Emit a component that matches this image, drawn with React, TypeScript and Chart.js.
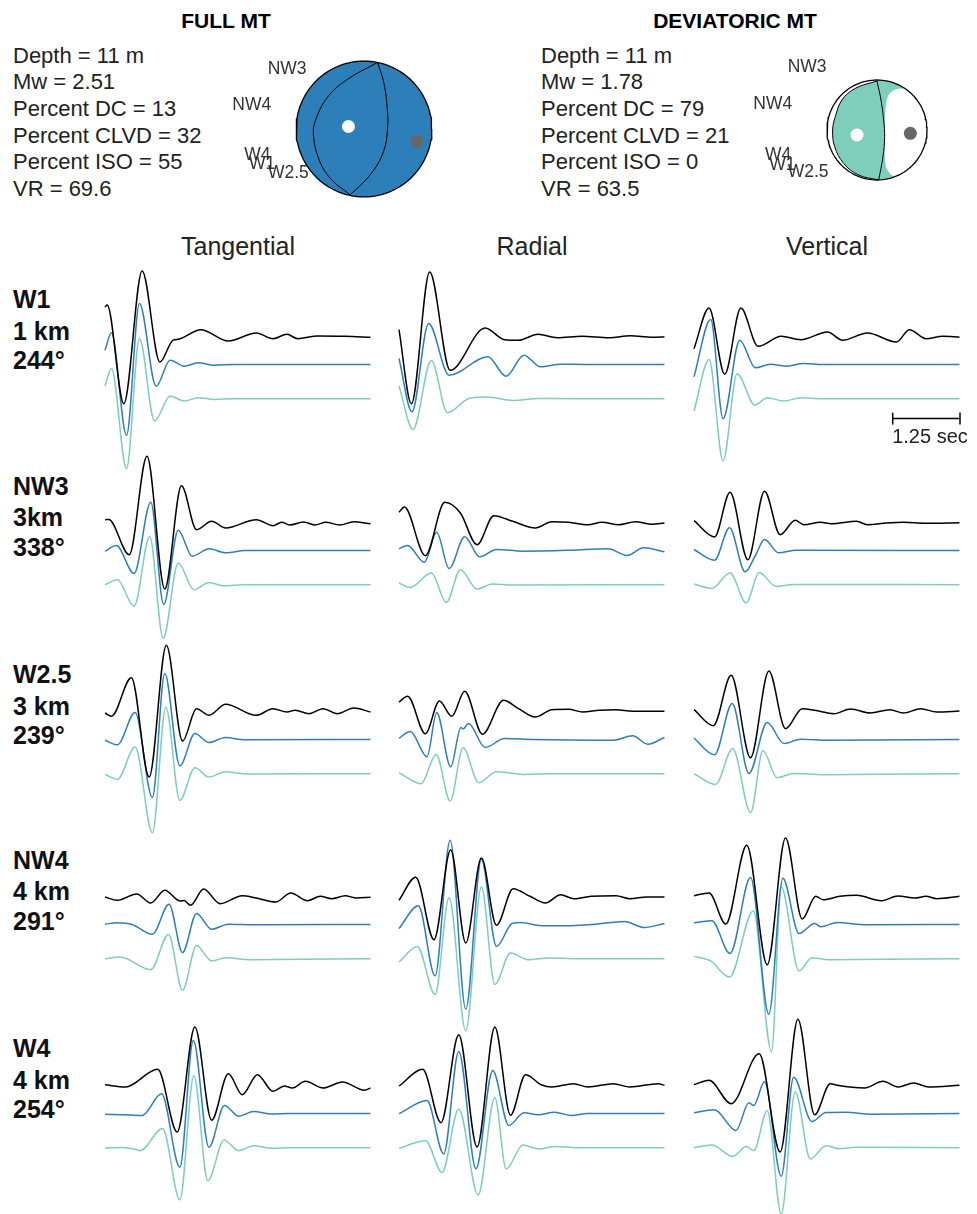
import React, { useEffect, useRef } from "react";
import { Chart, registerables } from "chart.js";

Chart.register(...registerables);

type Sample = [number, number]; // [time (s), amplitude]

// ---------------------------------------------------------------------------
// Waveforms. Black = observed, blue = full-MT synthetic, teal = deviatoric-MT
// synthetic. Time in seconds from the window start, amplitude in plot units.
// ---------------------------------------------------------------------------

// W1 (1 km, 244°)
const W1_T_obs: Sample[] = [[0, 30], [0.04, 32], [0.35, -66.7], [0.69, 66], [1.02, -25], [1.26, -3.3], [1.36, -2.3], [1.78, 7.3], [2.29, -4], [2.81, 4], [3.12, -1.7], [3.38, 2.7], [3.58, -1.7], [3.95, 1], [4.46, 0.7], [4.93, -0.3]];
const W1_T_full: Sample[] = [[0, 14.3], [0.12, 31.7], [0.4, -70.7], [0.64, 61], [0.95, -21.7], [1.21, 4.3], [1.47, -1.7], [1.73, 1.7], [2.03, -0.7], [2.4, 0], [4.93, 0]];
const W1_T_dev: Sample[] = [[0, 12.7], [0.12, 30.3], [0.4, -70], [0.64, 60.3], [0.92, -22.3], [1.21, 2.7], [1.47, -2.3], [1.73, 1], [2.03, -0.7], [2.4, 0], [4.93, 0]];
const W1_R_obs: Sample[] = [[0, 7.3], [0.23, -66.7], [0.57, 65], [0.95, -33.3], [1.6, 9], [1.96, -2.7], [2.22, -3.3], [2.58, 2.7], [2.94, -0.7], [3.4, 0.7], [3.9, -0.7], [4.3, 1.3], [4.7, -0.3], [4.93, 0]];
const W1_R_full: Sample[] = [[0, 6], [0.24, -47.3], [0.55, 41], [0.93, -10.7], [1.65, 7.7], [1.99, -11.7], [2.32, 9.3], [2.63, -2.3], [3.0, 0.3], [3.5, 0], [4.93, 0]];
const W1_R_dev: Sample[] = [[0, 12.7], [0.26, -30.7], [0.6, 38.3], [0.9, -14], [1.3, 0.3], [1.65, 1.7], [2.11, -1.7], [2.6, 0.3], [3.2, 0], [4.93, 0]];
const W1_Z_obs: Sample[] = [[0, -11.7], [0.28, 29], [0.57, -37.3], [0.87, 29], [1.19, -9.3], [1.62, 0.7], [1.98, -2.7], [2.48, 5], [2.76, -3.3], [3.22, 4], [3.76, -5], [4.0, 7.3], [4.31, -1.7], [4.62, 0.7], [4.93, 0]];
const W1_Z_full: Sample[] = [[0, -12.3], [0.31, 45], [0.54, -54], [0.85, 24.3], [1.14, -3.3], [1.42, 0.3], [1.73, -1.7], [2.03, 1], [2.4, 0], [4.93, 0]];
const W1_Z_dev: Sample[] = [[0, -12.3], [0.28, 39.3], [0.54, -62.3], [0.8, 25], [1.13, -6.3], [1.36, 1], [1.67, -2.3], [1.98, 1], [2.4, 0], [4.93, 0]];

// NW3 (3 km, 338°)
const NW3_T_obs: Sample[] = [[0, 3.3], [0.07, 3.5], [0.45, -31.7], [0.78, 66.7], [1.11, -66], [1.42, 37.3], [1.7, -6.7], [1.98, 1.7], [2.24, -5], [2.81, 3.3], [3.12, -2.7], [3.28, 0.7], [3.43, -2], [3.69, 1], [3.9, -2], [4.1, 0.7], [4.36, -2], [4.62, 1.3], [4.93, -0.7]];
const NW3_T_full: Sample[] = [[0, -0.7], [0.21, 5], [0.54, -23], [0.85, 48.3], [1.09, -54], [1.36, 20.3], [1.62, -5.7], [1.93, 1.7], [2.24, -2.3], [2.6, 0], [4.93, 0]];
const NW3_T_dev: Sample[] = [[0, 0], [0.23, 5], [0.54, -21.7], [0.83, 48.3], [1.08, -53.7], [1.36, 21.7], [1.65, -5], [1.93, 2.3], [2.19, -1], [2.6, 0], [4.93, 0]];
const NW3_R_obs: Sample[] = [[0, 10.7], [0.1, 16], [0.49, -32.7], [0.85, 20.7], [1.14, 10], [1.45, -21.7], [1.76, 7.3], [2.11, 1.7], [2.53, -5], [2.84, 1.3], [3.15, 0.7], [3.51, -1.7], [3.77, 0.7], [4.08, -1.7], [4.39, 1.3], [4.7, -1.3], [4.93, 0]];
const NW3_R_full: Sample[] = [[0, 1.7], [0.16, 5], [0.47, -11.7], [0.7, 18.3], [0.93, -18], [1.22, 13.7], [1.5, -6.3], [1.81, 1], [2.3, -0.7], [3.2, 0.3], [3.88, 1.7], [4.24, -5], [4.54, 2.7], [4.93, -1.3]];
const NW3_R_dev: Sample[] = [[0, 1.7], [0.21, -2.7], [0.6, 11.7], [0.88, -17.7], [1.14, 15], [1.45, -4.3], [1.73, 0.7], [2.1, -0.3], [4.93, 0]];
const NW3_Z_obs: Sample[] = [[0, 2.3], [0.38, -14], [0.67, 30.7], [1.0, -36.7], [1.31, 31.7], [1.6, -11.7], [1.88, 2.7], [2.04, -1.7], [2.35, 0.7], [2.55, -0.7], [3.02, 1.7], [3.22, -1.7], [3.58, 0], [3.9, 0.7], [4.3, -0.3], [4.93, 0.3]];
const NW3_Z_full: Sample[] = [[0, 1], [0.38, -9.7], [0.66, 22.7], [0.95, -21.3], [1.14, -5], [1.31, 11], [1.57, -2.3], [1.9, 0.3], [4.93, 0]];
const NW3_Z_dev: Sample[] = [[0, 0.7], [0.33, -3.7], [0.67, 11.7], [0.97, -18.3], [1.21, 12.3], [1.52, -1.7], [1.85, 0.3], [4.93, 0]];

// W2.5 (3 km, 239°)
const W25_T_obs: Sample[] = [[0, -1], [0.12, -4.3], [0.49, 34.3], [0.82, -65], [1.14, 66.7], [1.44, -29], [1.7, 3.3], [1.93, -3.3], [2.24, 7.7], [2.81, -3.3], [3.12, 3.3], [3.38, 0], [3.53, 1.7], [3.79, -1.7], [4.05, 3.3], [4.31, -1.7], [4.62, 4], [4.93, 0]];
const W25_T_full: Sample[] = [[0, -0.7], [0.23, -5.3], [0.56, 27], [0.88, -58], [1.11, 66], [1.39, -26.3], [1.67, 6], [1.93, -3], [2.24, 2], [2.6, -0.3], [4.93, 0]];
const W25_T_dev: Sample[] = [[0, -0.7], [0.23, -5.7], [0.56, 26.7], [0.88, -59], [1.13, 66.7], [1.39, -26.7], [1.67, 6], [1.93, -3.3], [2.24, 2], [2.6, -0.3], [4.93, 0]];
const W25_R_obs: Sample[] = [[0, 10], [0.16, 15.7], [0.49, -21.7], [0.75, 11], [0.98, -4.3], [1.22, 20.7], [1.55, -22.3], [1.94, 11.7], [2.22, 3.3], [2.53, -5], [2.84, 2.3], [3.15, 2.7], [3.41, 0], [3.72, 1.7], [4.03, 2.3], [4.34, 0.7], [4.93, 0.7]];
const W25_R_full: Sample[] = [[0, 1.3], [0.21, 8], [0.52, -17.3], [0.7, 27], [0.96, -27.3], [1.15, 12], [1.19, 10.5], [1.29, 16], [1.6, -8], [1.96, 1], [2.5, 0], [3.98, -0.7], [4.34, 3.7], [4.62, -4.7], [4.93, 2]];
const W25_R_dev: Sample[] = [[0, 1], [0.41, -10], [0.69, 19.3], [0.95, -27.3], [1.19, 26], [1.48, -9], [1.81, 2], [2.3, -0.7], [2.8, 0], [4.93, 0]];
const W25_Z_obs: Sample[] = [[0, 2.3], [0.36, -13.7], [0.69, 36.7], [1.05, -45.7], [1.39, 41], [1.7, -16.7], [2.01, 3.3], [2.24, 1.7], [2.6, -1.7], [2.91, 3], [3.27, -1], [3.64, 2.3], [3.89, -1], [4.21, 3.3], [4.51, 0], [4.93, 1]];
const W25_Z_full: Sample[] = [[0, 1.3], [0.38, -15.3], [0.71, 36], [1.02, -34], [1.36, 17], [1.67, -4], [1.98, 0.3], [2.5, -0.7], [4.93, 0]];
const W25_Z_dev: Sample[] = [[0, 0], [0.4, -10.7], [0.72, 25.3], [1.05, -39], [1.28, 23.3], [1.54, -4], [1.85, 0.3], [2.4, -1], [4.93, 0]];

// NW4 (4 km, 291°)
const NW4_T_obs: Sample[] = [[0, 0], [0.23, -3.3], [0.59, 3], [0.85, -6], [1.11, 6.7], [1.4, -4], [1.47, -3.6], [1.59, -8.3], [1.83, 8], [2.14, -6.7], [2.55, 1.3], [2.81, -1], [3.17, -5], [3.45, 4], [3.76, -3.7], [4.0, 0.7], [4.21, -1.7], [4.46, 1.3], [4.67, -1], [4.93, -0.3]];
const NW4_T_full: Sample[] = [[0, 0.3], [0.23, 1.7], [0.5, 0], [0.88, -9.7], [1.19, 20.3], [1.44, -28], [1.7, 11], [1.98, -4.7], [2.29, 0.3], [2.8, -0.3], [4.93, 0]];
const NW4_T_dev: Sample[] = [[0, 0], [0.28, 1.7], [0.85, -11], [1.18, 24.3], [1.44, -31.7], [1.7, 13.3], [1.98, -2.3], [2.24, 1], [2.7, -1], [4.93, 0]];
const NW4_R_obs: Sample[] = [[0, -3.3], [0.31, 19.7], [0.65, -42.7], [0.96, 47.3], [1.24, -46], [1.53, 39], [1.81, -28.3], [2.12, 8.3], [2.43, 0.7], [2.72, -6], [3.0, 2.3], [3.25, -1.7], [3.57, 0.7], [4.03, 1.3], [4.29, -1.7], [4.6, 0], [4.93, 0]];
const NW4_R_full: Sample[] = [[0, -4], [0.36, 18.7], [0.67, -51.3], [0.95, 84.3], [1.24, -84.7], [1.53, 65.3], [1.81, -22], [2.1, 1], [2.27, 2], [2.6, -1], [3.05, -1.3], [3.6, 0], [4.19, 3], [4.55, -3], [4.93, 1]];
const NW4_R_dev: Sample[] = [[0, -3.3], [0.34, 12.3], [0.67, -35.7], [0.93, 61], [1.24, -72], [1.53, 71.7], [1.78, -25.7], [2.07, 5.7], [2.4, -1], [2.8, 0.7], [3.3, 0], [4.93, 0]];
const NW4_Z_obs: Sample[] = [[0, 1.3], [0.28, 4], [0.59, -27], [0.98, 51.7], [1.36, -67.7], [1.7, 59], [2.01, -22], [2.26, 0.7], [2.4, -2.7], [2.71, 0.7], [3.02, 1.7], [3.48, -3.7], [3.79, 1], [4.1, -1], [4.31, 0.7], [4.51, -1.7], [4.93, 0.7]];
const NW4_Z_full: Sample[] = [[0, 1.7], [0.33, 3.7], [0.67, -29], [1.05, 47], [1.39, -89.7], [1.65, 46.3], [1.95, -9], [2.24, 1], [2.35, -2.3], [2.66, 2], [3.2, -0.3], [4.93, 0]];
const NW4_Z_dev: Sample[] = [[0, 2.3], [0.3, -2], [0.66, -18.3], [1.1, 47.7], [1.44, -93], [1.62, 71.7], [1.95, -12.3], [2.19, 1], [2.5, -1], [4.93, 0]];

// W4 (4 km, 254°)
const W4_T_obs: Sample[] = [[0, 1.3], [0.38, -1], [0.98, 16.7], [1.34, -46], [1.67, 59], [1.98, -34.3], [2.29, 12.3], [2.55, -8.7], [2.83, 11.3], [3.12, -5.3], [3.33, 0], [3.48, -2], [3.72, 4.7], [4.05, -2], [4.41, 4], [4.82, -4.3], [4.93, -2]];
const W4_T_full: Sample[] = [[0, -0.7], [0.33, -1.3], [0.69, -2], [1.05, 19.7], [1.39, -53.7], [1.64, 73], [1.93, -33.7], [2.22, 8], [2.48, -2.7], [2.76, 2], [3.1, -0.5], [3.4, 0], [4.93, 0]];
const W4_T_dev: Sample[] = [[0, -0.3], [0.3, 0.3], [0.54, -1.3], [0.65, -3], [1.07, 19.3], [1.39, -52], [1.65, 72], [1.91, -33], [2.21, 7.7], [2.48, -3], [2.76, 2], [3.1, -0.5], [3.4, 0], [4.93, 0]];
const W4_R_obs: Sample[] = [[0, 0], [0.44, 16.7], [0.78, -36.7], [1.11, 51.3], [1.45, -61], [1.78, 59], [2.07, -29.3], [2.35, 11.3], [2.64, 1.3], [2.84, -1], [3.24, 2.3], [3.51, -1], [3.98, 2.3], [4.29, -1], [4.81, 2.3], [4.93, 0.7]];
const W4_R_full: Sample[] = [[0, -0.3], [0.52, 13], [0.83, -40.3], [1.11, 62], [1.43, -55.3], [1.74, 43], [2.04, -12], [2.32, 0.7], [2.58, -1.3], [2.89, 1.3], [3.2, -2], [3.5, 0], [4.93, 0]];
const W4_R_dev: Sample[] = [[0, -0.7], [0.49, 7], [0.8, -24.7], [1.11, 38.7], [1.47, -47.3], [1.78, 50.3], [1.99, -21.3], [2.3, 2.7], [2.6, -1.3], [2.9, 1.3], [3.3, 0], [4.93, 0]];
const W4_Z_obs: Sample[] = [[0, 1.3], [0.28, 5.7], [0.69, -17.7], [1.21, 32.3], [1.6, -66], [1.93, 66.7], [2.24, -28.7], [2.53, 2.3], [2.66, 0.7], [3.17, -2], [3.51, 4.7], [3.79, -1], [4.08, 3], [4.36, -1], [4.93, 0.7]];
const W4_Z_full: Sample[] = [[0, 0.7], [0.38, 3.7], [0.78, -17], [1.02, 10.7], [1.11, 8], [1.31, 32], [1.62, -62.7], [1.85, 36.3], [2.19, -8], [2.45, 1], [2.81, 1.3], [3.3, -0.7], [4.93, 0]];
const W4_Z_dev: Sample[] = [[0, 0], [0.33, 2.7], [0.72, -8.7], [0.97, 1.3], [1.11, -3], [1.36, 37], [1.62, -66.3], [1.88, 56], [2.16, -11.3], [2.45, 2], [2.7, -1], [3.0, 0.5], [4.93, 0]];

// Station rows and component columns
const STATIONS = ["W1", "NW3", "W2.5", "NW4", "W4"];
const DISTANCES = ["1 km", "3km", "3 km", "4 km", "4 km"];
const AZIMUTHS = ["244°", "338°", "239°", "291°", "254°"];
const COMPONENTS = ["Tangential", "Radial", "Vertical"];

const OBS_ROWS = [
  [W1_T_obs, W1_R_obs, W1_Z_obs],
  [NW3_T_obs, NW3_R_obs, NW3_Z_obs],
  [W25_T_obs, W25_R_obs, W25_Z_obs],
  [NW4_T_obs, NW4_R_obs, NW4_Z_obs],
  [W4_T_obs, W4_R_obs, W4_Z_obs],
];
const FULL_ROWS = [
  [W1_T_full, W1_R_full, W1_Z_full],
  [NW3_T_full, NW3_R_full, NW3_Z_full],
  [W25_T_full, W25_R_full, W25_Z_full],
  [NW4_T_full, NW4_R_full, NW4_Z_full],
  [W4_T_full, W4_R_full, W4_Z_full],
];
const DEV_ROWS = [
  [W1_T_dev, W1_R_dev, W1_Z_dev],
  [NW3_T_dev, NW3_R_dev, NW3_Z_dev],
  [W25_T_dev, W25_R_dev, W25_Z_dev],
  [NW4_T_dev, NW4_R_dev, NW4_Z_dev],
  [W4_T_dev, W4_R_dev, W4_Z_dev],
];

const SCALE_BAR_SEC = 1.25;

// Moment tensor summaries
const FULL_INFO = ["Depth = 11 m", "Mw = 2.51", "Percent DC = 13", "Percent CLVD = 32", "Percent ISO = 55", "VR = 69.6"];
const DEV_INFO = ["Depth = 11 m", "Mw = 1.78", "Percent DC = 79", "Percent CLVD = 21", "Percent ISO = 0", "VR = 63.5"];

// Focal sphere traces, in unit-sphere projection coordinates
const FULL_NODAL_A: Sample[] = [[0.2, 0.98], [-0.253, 0.726], [-0.547, 0.456], [-0.72, 0.111], [-0.745, -0.086], [-0.671, -0.429], [-0.499, -0.724], [-0.204, -0.97]];
const FULL_NODAL_B: Sample[] = [[0.2, 0.98], [0.288, 0.7], [0.338, 0.357], [0.347, 0.013], [0.288, -0.332], [0.091, -0.676], [-0.204, -0.97]];
const FULL_T_AXIS: Sample = [-0.229, 0.037];
const FULL_P_AXIS: Sample = [0.78, -0.184];

const DEV_NODAL_A: Sample[] = [[0, 0.98], [-0.433, 0.833], [-0.7, 0.6], [-0.833, 0.267], [-0.887, 0], [-0.847, -0.333], [-0.667, -0.667], [-0.367, -0.9], [0.033, -1.0]];
const DEV_NODAL_B: Sample[] = [[0, 0.98], [0.08, 0.6], [0.133, 0.2], [0.153, -0.133], [0.12, -0.533], [0.033, -1.0]];
const DEV_DILATATION_EDGE: Sample[] = [[0.367, -0.93], [0.287, -0.9], [0.18, -0.733], [0.15, -0.4], [0.15, -0.133], [0.16, 0.2], [0.18, 0.5], [0.24, 0.72], [0.35, 0.8], [0.45, 0.83], [0.574, 0.819]];
const DEV_T_AXIS: Sample = [-0.4, -0.1];
const DEV_P_AXIS: Sample = [0.667, -0.067];

const STATION_MARKS = ["NW3", "NW4", "W4", "W1", "W2.5"];

// ---------------------------------------------------------------------------
// Layout
// ---------------------------------------------------------------------------
const FONT = "'Liberation Sans', Arial, Helvetica, sans-serif";
const BLUE = "#2c7fb8";
const TEAL = "#7fcdbb";

const WINDOW_SEC = 4.94;
const PANEL_W = 266;
const PAD = 4;
const Y_MAX = 80;
const Y_MIN = -165;
const FULL_OFFSET = -27.5;
const DEV_OFFSET = -61.7;
const COL_X = [105, 399, 694];
const ROW_BASE = [336.7, 523.3, 711.7, 897.3, 1085.7];
const SCALE_BAR_Y = -81.6;

const toXY = (arr: Sample[], off = 0) => arr.map(([x, y]) => ({ x, y: y + off }));

const arc = (a0: number, a1: number, step = 4) => {
  const n = Math.max(1, Math.ceil(Math.abs(a1 - a0) / step));
  const pts: { x: number; y: number }[] = [];
  for (let i = 0; i <= n; i++) {
    const a = ((a0 + ((a1 - a0) * i) / n) * Math.PI) / 180;
    pts.push({ x: Math.cos(a), y: Math.sin(a) });
  }
  return pts;
};

const hiddenScales = (xMin: number, xMax: number, yMin: number, yMax: number) => ({
  x: { type: "linear" as const, min: xMin, max: xMax, display: false },
  y: { type: "linear" as const, min: yMin, max: yMax, display: false },
});

function TracePanel(props: { obs: Sample[]; full: Sample[]; dev: Sample[]; left: number; top: number; scaleBar: boolean }) {
  const ref = useRef<HTMLCanvasElement>(null);
  const { obs, full, dev, left, top, scaleBar } = props;
  useEffect(() => {
    if (!ref.current) return;
    const line = (data: any[], color: string, order: number) => ({
      data,
      showLine: true,
      borderColor: color,
      borderWidth: 1.5,
      pointRadius: 0,
      cubicInterpolationMode: "monotone" as const,
      clip: false as const,
      order,
    });
    const datasets: any[] = [
      line(toXY(obs), "#000000", 1),
      line(toXY(full, FULL_OFFSET), BLUE, 2),
      line(toXY(dev, DEV_OFFSET), TEAL, 3),
    ];
    if (scaleBar) {
      datasets.push({
        data: [
          { x: WINDOW_SEC - SCALE_BAR_SEC, y: SCALE_BAR_Y },
          { x: WINDOW_SEC, y: SCALE_BAR_Y },
        ],
        showLine: true,
        borderColor: "#000000",
        borderWidth: 1.5,
        pointStyle: "line",
        rotation: 90,
        pointRadius: 6,
        pointBorderWidth: 1.5,
        pointBorderColor: "#000000",
        clip: false,
        order: 0,
      });
    }
    const chart = new Chart(ref.current, {
      type: "scatter",
      data: { datasets },
      options: {
        animation: false,
        responsive: false,
        devicePixelRatio: 1,
        events: [],
        layout: { autoPadding: false, padding: { left: PAD, right: PAD, top: 0, bottom: 0 } },
        plugins: { legend: { display: false }, tooltip: { enabled: false } },
        scales: hiddenScales(0, WINDOW_SEC, Y_MIN, Y_MAX),
      },
    });
    return () => chart.destroy();
  }, [obs, full, dev, scaleBar]);
  const w = PANEL_W + 2 * PAD;
  const h = Y_MAX - Y_MIN;
  return (
    <canvas
      ref={ref}
      width={w}
      height={h}
      style={{ position: "absolute", left: left - PAD, top, width: w, height: h }}
    />
  );
}

function Beachball(props: { kind: "full" | "dev"; cx: number; cy: number; r: number }) {
  const ref = useRef<HTMLCanvasElement>(null);
  const { kind, cx, cy, r } = props;
  const ext = 1.12;
  const size = Math.round(2 * ext * r);
  useEffect(() => {
    if (!ref.current) return;
    const curve = (pts: any[], order: number) => ({
      data: pts,
      showLine: true,
      borderColor: "#000000",
      borderWidth: 1,
      pointRadius: 0,
      tension: 0.4,
      clip: false,
      order,
    });
    const dot = (p: Sample, color: string) => ({
      data: [{ x: p[0], y: p[1] }],
      showLine: false,
      pointRadius: 6.5,
      pointBackgroundColor: color,
      pointBorderWidth: 0,
      pointBorderColor: color,
      order: 0,
    });
    let datasets: any[];
    if (kind === "full") {
      datasets = [
        {
          data: arc(0, 360, 3),
          showLine: true,
          fill: "shape",
          backgroundColor: BLUE,
          borderColor: "#000000",
          borderWidth: 1.3,
          pointRadius: 0,
          tension: 0,
          order: 5,
        },
        curve(toXY(FULL_NODAL_A), 3),
        curve(toXY(FULL_NODAL_B), 2),
        dot(FULL_T_AXIS, "#ffffff"),
        dot(FULL_P_AXIS, "#666666"),
      ];
    } else {
      const tealRegion = [...toXY(DEV_NODAL_A), ...arc(-88, 90, 3).slice(1)];
      const whiteRegion = [...arc(55, -70, 3), ...toXY(DEV_DILATATION_EDGE)];
      datasets = [
        { data: tealRegion, showLine: true, fill: "shape", backgroundColor: TEAL, borderWidth: 0, borderColor: "rgba(0,0,0,0)", pointRadius: 0, tension: 0.3, order: 6 },
        { data: whiteRegion, showLine: true, fill: "shape", backgroundColor: "#ffffff", borderWidth: 0, borderColor: "rgba(0,0,0,0)", pointRadius: 0, tension: 0.3, order: 5 },
        curve(toXY(DEV_NODAL_A), 4),
        curve(toXY(DEV_NODAL_B), 3),
        {
          data: arc(0, 360, 3),
          showLine: true,
          borderColor: "#000000",
          borderWidth: 1.3,
          pointRadius: 0,
          tension: 0,
          order: 2,
        },
        dot(DEV_T_AXIS, "#ffffff"),
        dot(DEV_P_AXIS, "#666666"),
      ];
    }
    const chart = new Chart(ref.current, {
      type: "scatter",
      data: { datasets },
      options: {
        animation: false,
        responsive: false,
        devicePixelRatio: 1,
        events: [],
        layout: { autoPadding: false, padding: 0 },
        plugins: { legend: { display: false }, tooltip: { enabled: false } },
        scales: hiddenScales(-ext, ext, -ext, ext),
      },
    });
    return () => chart.destroy();
  }, [kind]);
  return (
    <canvas
      ref={ref}
      width={size}
      height={size}
      style={{ position: "absolute", left: cx - size / 2, top: cy - size / 2, width: size, height: size }}
    />
  );
}

const textAt = (
  key: string,
  text: string,
  x: number,
  cy: number,
  size: number,
  opts: { bold?: boolean; align?: "left" | "center"; color?: string } = {}
) => {
  const lh = Math.round(size * 1.3);
  const style: React.CSSProperties = {
    position: "absolute",
    top: cy - lh / 2,
    lineHeight: `${lh}px`,
    height: lh,
    fontFamily: FONT,
    fontSize: size,
    fontWeight: opts.bold ? 700 : 400,
    color: opts.color || "#222222",
    whiteSpace: "nowrap",
  };
  if (opts.align === "center") {
    style.left = x - 200;
    style.width = 400;
    style.textAlign = "center";
  } else {
    style.left = x;
  }
  return (
    <div key={key} style={style}>
      {text}
    </div>
  );
};

// station label anchors around each focal sphere (left edge, vertical centre)
const FULL_MARK_POS: Sample[] = [[267.7, 68.3], [232.3, 104.3], [244.3, 154], [249, 163.3], [268, 172.3]];
const DEV_MARK_POS: Sample[] = [[787.7, 66.7], [753.3, 103.3], [765, 154], [769.3, 164.3], [787.7, 171.7]];

export default function App() {
  const info = (lines: string[], x: number, prefix: string) =>
    lines.map((t, i) => textAt(`${prefix}${i}`, t, x, 55 + i * 26.67, 22));

  return (
    <div style={{ position: "absolute", left: 0, top: 0, width: 977, height: 1214, background: "#ffffff", overflow: "hidden" }}>
      {textAt("t-full", "FULL MT", 226, 20.3, 21, { bold: true, align: "center", color: "#000" })}
      {textAt("t-dev", "DEVIATORIC MT", 735, 20.3, 21, { bold: true, align: "center", color: "#000" })}
      {info(FULL_INFO, 13, "fi")}
      {info(DEV_INFO, 541, "di")}

      <Beachball kind="full" cx={363.8} cy={129.2} r={67.8} />
      <Beachball kind="dev" cx={876.7} cy={130} r={50} />

      {STATION_MARKS.map((s, i) => textAt(`fm${i}`, s, FULL_MARK_POS[i][0], FULL_MARK_POS[i][1], 17.5, { color: "#333" }))}
      {STATION_MARKS.map((s, i) => textAt(`dm${i}`, s, DEV_MARK_POS[i][0], DEV_MARK_POS[i][1], 17.5, { color: "#333" }))}

      {COMPONENTS.map((c, j) => textAt(`c${j}`, c, COL_X[j] + PANEL_W / 2, 246, 25, { align: "center" }))}

      {STATIONS.map((s, i) => (
        <React.Fragment key={`row${i}`}>
          {textAt(`s${i}`, s, 13, ROW_BASE[i] - 37.2, 25, { bold: true, color: "#111" })}
          {textAt(`d${i}`, DISTANCES[i], 13, ROW_BASE[i] - 5.7, 25, { bold: true, color: "#111" })}
          {textAt(`a${i}`, AZIMUTHS[i], 13, ROW_BASE[i] + 23.8, 25, { bold: true, color: "#111" })}
        </React.Fragment>
      ))}

      {OBS_ROWS.map((row, i) =>
        row.map((obs, j) => (
          <TracePanel
            key={`p${i}-${j}`}
            obs={obs}
            full={FULL_ROWS[i][j]}
            dev={DEV_ROWS[i][j]}
            left={COL_X[j]}
            top={ROW_BASE[i] - Y_MAX}
            scaleBar={i === 0 && j === 2}
          />
        ))
      )}

      {textAt("sb", `${SCALE_BAR_SEC} sec`, 930, 436, 20, { align: "center" })}
    </div>
  );
}
